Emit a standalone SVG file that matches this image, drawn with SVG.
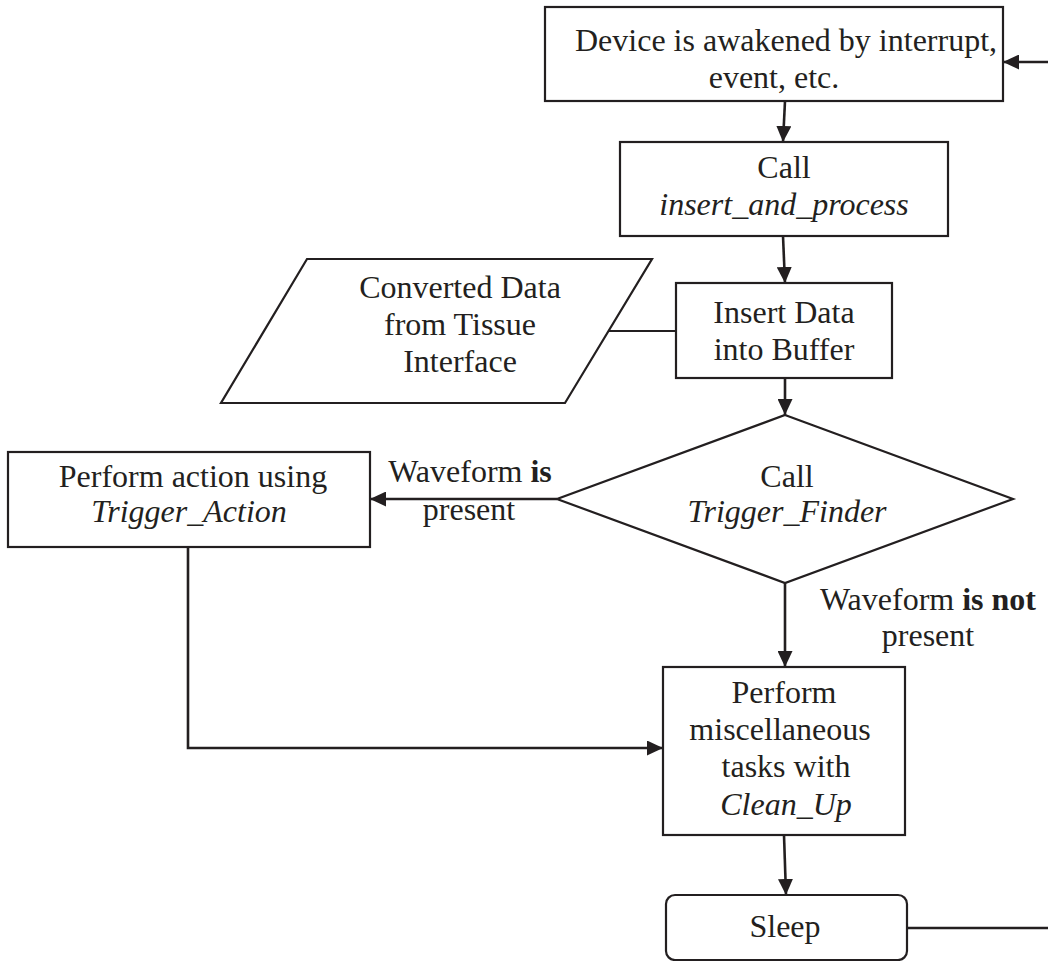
<svg xmlns="http://www.w3.org/2000/svg" width="1048" height="961" viewBox="0 0 1048 961">
<defs>
<marker id="arr" markerUnits="userSpaceOnUse" markerWidth="17" markerHeight="15" refX="16" refY="7.5" orient="auto">
<path d="M0,0 L16,7.5 L0,15 Z" fill="#231f20"/>
</marker>
</defs>
<style>
.box{fill:#fff;stroke:#231f20;stroke-width:2.2}
.t{font-family:"Liberation Serif","Times New Roman",serif;font-size:32px;fill:#231f20;text-anchor:middle}
.i{font-style:italic}
.b{font-weight:bold}
.c{fill:none;stroke:#231f20;stroke-width:2.6}
.c2{fill:none;stroke:#231f20;stroke-width:2}
</style>
<rect width="1048" height="961" fill="#fff"/>
<g id="connectors">
<path class="c" d="M907,928 H1060 V62 H1003" marker-end="url(#arr)"/>
<path class="c" d="M785,101 L783,142" marker-end="url(#arr)"/>
<path class="c" d="M783,236 L785,283" marker-end="url(#arr)"/>
<path class="c2" d="M608,331 H676"/>
<path class="c" d="M785,378 V415" marker-end="url(#arr)"/>
<path class="c" d="M557,499 H370" marker-end="url(#arr)"/>
<path class="c" d="M188,547 V748 H663" marker-end="url(#arr)"/>
<path class="c" d="M785,583 V667" marker-end="url(#arr)"/>
<path class="c" d="M784,835 L786,895" marker-end="url(#arr)"/>
</g>
<g id="awake">
<rect class="box" x="545" y="7" width="458" height="94"/>
<text class="t" x="786" y="51">Device is awakened by interrupt,</text>
<text class="t" x="774" y="88">event, etc.</text>
</g>
<g id="callInsert">
<rect class="box" x="620" y="142" width="328" height="94"/>
<text class="t" x="784" y="178">Call</text>
<text class="t i" x="784" y="215">insert_and_process</text>
</g>
<g id="data">
<polygon class="box" points="307,259 652,259 565,403 221,403"/>
<text class="t" x="460" y="298">Converted Data</text>
<text class="t" x="460" y="335">from Tissue</text>
<text class="t" x="460" y="372">Interface</text>
</g>
<g id="insert">
<rect class="box" x="676" y="283" width="216" height="95"/>
<text class="t" x="784" y="323">Insert Data</text>
<text class="t" x="784" y="360">into Buffer</text>
</g>
<g id="finder">
<polygon class="box" points="785,415 1013,499 785,583 557,499"/>
<text class="t" x="787" y="487">Call</text>
<text class="t i" x="787" y="522">Trigger_Finder</text>
</g>
<g id="action">
<rect class="box" x="8" y="452" width="362" height="95"/>
<text class="t" x="193" y="487">Perform action using</text>
<text class="t i" x="189" y="522">Trigger_Action</text>
</g>
<g id="labelIs">
<text class="t" x="470" y="482">Waveform <tspan class="b">is</tspan></text>
<text class="t" x="469" y="520">present</text>
</g>
<g id="labelNot">
<text class="t" x="928" y="610">Waveform <tspan class="b">is not</tspan></text>
<text class="t" x="928" y="646">present</text>
</g>
<g id="misc">
<rect class="box" x="663" y="667" width="242" height="168"/>
<text class="t" x="784" y="703">Perform</text>
<text class="t" x="780" y="740">miscellaneous</text>
<text class="t" x="786" y="777">tasks with</text>
<text class="t i" x="786" y="815">Clean_Up</text>
</g>
<g id="sleep">
<rect class="box" x="666" y="895" width="241" height="65" rx="9"/>
<text class="t" x="785" y="937">Sleep</text>
</g>
</svg>
